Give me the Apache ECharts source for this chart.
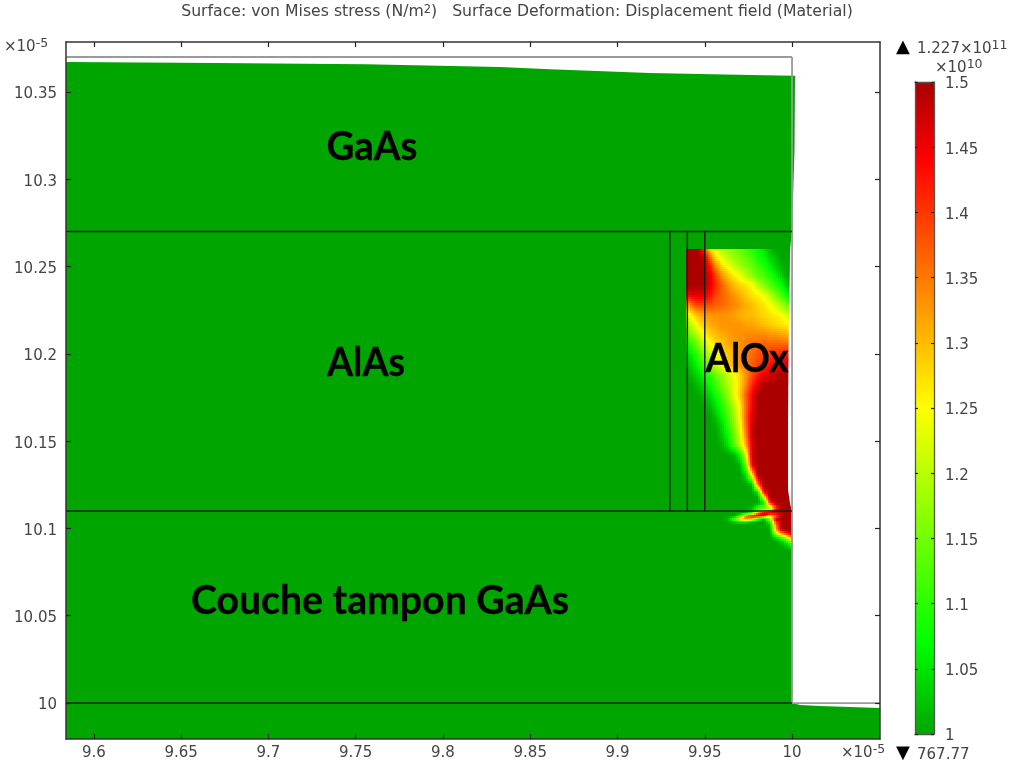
<!DOCTYPE html>
<html><head><meta charset="utf-8">
<script src="https://cdn.jsdelivr.net/npm/echarts@6/dist/echarts.min.js"></script>
<style>html,body{margin:0;padding:0;background:#fff;overflow:hidden}#c{width:1017px;height:769px;filter:blur(0.5px)}</style>
</head><body><div id="c"></div>
<script>
// ---- axis ticks (units of 1e-5) ----
const xTickValues = [9.6, 9.65, 9.7, 9.75, 9.8, 9.85, 9.9, 9.95, 10];
const yTickValues = [10, 10.05, 10.1, 10.15, 10.2, 10.25, 10.3, 10.35];
const xRange = [9.584, 10.0504];
const yRange = [9.9794, 10.3786];

// ---- colour scale (units of 1e10) ----
const colormapValues = [1, 1.07, 1.25, 1.44, 1.5];
const colormapColors = [[0,165,0],[0,255,0],[255,255,0],[255,0,0],[170,0,0]];
const colorbarRange = [1, 1.5];

// ---- deformed material outline ----
const materialX = [9.584, 9.6697, 9.7557, 9.8327, 9.8613, 9.9186, 9.976, 10.0017, 10.0014, 10, 10, 10.0046, 10.016, 10.0504, 10.0504, 9.584];
const materialY = [10.3672, 10.3666, 10.3658, 10.3643, 10.363, 10.3609, 10.3597, 10.3592, 10.3168, 10.27, 10, 9.9989, 9.9983, 9.9971, 9.9794, 9.9794];
// gap left where the oxide has shrunk away from the undeformed edge
const gapX = [10, 9.9989, 9.998, 9.9977, 9.9977, 9.9989, 10];
const gapY = [10.27, 10.26, 10.2022, 10.1621, 10.122, 10.114, 10.11];

// ---- undeformed geometry ----
const geometryDark = [
  [9.584,10.27,10,10.27],[9.584,10.11,10,10.11],[9.584,10,10,10],
  [9.93,10.11,9.93,10.27],[9.94,10.11,9.94,10.27],[9.95,10.11,9.95,10.27]
];
const geometryGrey = [
  [9.584,10.37,10,10.37],[10,10.37,10,10],[10,10,10.0504,10]
];

// ---- region names ----
const regionNames = ['GaAs','AlAs','AlOx','Couche tampon GaAs'];
const regionX = [9.7593, 9.7559, 9.9742, 9.7639];
const regionY = [10.3185, 10.1948, 10.1972, 10.0585];
const regionWidthScale = [0.96, 0.94, 0.925, 0.98];

// ---- von Mises stress (x 1e8 N/m2) ----
const fieldX = [9.9393,9.9427,9.9461,9.9496,9.953,9.9564,9.9599,9.9633,9.9668,9.9702,9.9736,9.9771,9.9805,9.984,9.9874,9.9908,9.9943,9.9977,10];
const fieldY = [10.2601,10.2555,10.2509,10.2452,10.2394,10.2337,10.228,10.2223,10.2165,10.2108,10.2051,10.1993,10.1936,10.1879,10.1822,10.1764,10.1707,10.165,10.1592,10.1535,10.1478,10.1421,10.1363,10.1306,10.1249,10.1209,10.1174,10.1146,10.1123,10.1106,10.1088,10.1071,10.1054,10.1037,10.102,10.0997,10.0974,10.0951,10.0928,10.0905,10.0876];
const fieldValues = [
[150,150,150,140,128,123,120,118,116,114,112,110,107,105,102,100,100,100,100],
[150,150,150,148,136,127,123,120,118,116,114,112,109,107,104,102,100,100,100],
[150,150,150,150,142,133,127,124,121,118,116,114,111,109,106,103,101,100,100],
[150,150,150,150,146,139,133,129,126,124,120,117,114,112,109,106,103,100,100],
[150,150,150,150,146,141,137,133,130,128,127,125,120,117,113,110,107,102,100],
[144,146,146,146,143,139,137,135,133,131,129,127,126,124,120,116,112,107,104],
[130,136,139,139,138,137,136,135,134,133,131,130,128,127,125,122,118,115,112],
[122,126,130,132,133,133,133,133,132,131,130,130,129,128,127,126,125,122,120],
[116,121,126,129,131,132,133,133,133,133,132,132,131,130,129,128,127,126,125],
[112,116,120,125,128,130,131,132,133,133,134,134,134,134,133,133,132,131,131],
[107,110,115,120,124,127,129,131,132,133,134,135,136,137,137,137,137,137,137],
[104,106,110,115,120,124,127,129,131,133,135,136,138,139,140,141,142,143,143],
[102,104,107,112,117,121,125,128,131,133,135,137,139,141,143,144,146,147,147],
[100,102,104,107,110,114,117,121,124,128,133,138,142,145,147,149,150,150,150],
[100,100,102,104,107,111,115,119,123,128,134,141,146,150,150,150,150,150,150],
[100,100,100,102,104,108,112,117,123,129,137,144,150,150,150,150,150,150,150],
[100,100,100,100,102,105,109,114,120,126,136,144,150,150,150,150,150,150,150],
[100,100,100,100,100,103,107,112,118,125,137,146,150,150,150,150,150,150,150],
[100,100,100,100,100,101,104,110,116,124,136,147,150,150,150,150,150,150,150],
[100,100,100,100,100,100,103,107,114,122,134,148,150,150,150,150,150,150,150],
[100,100,100,100,100,100,101,105,112,120,131,146,150,150,150,150,150,150,150],
[100,100,100,100,100,100,100,100,101,107,122,147,150,150,150,150,150,150,150],
[100,100,100,100,100,100,100,100,100,101,114,145,150,150,150,150,150,150,150],
[100,100,100,100,100,100,100,100,100,100,104,125,150,150,150,150,150,150,150],
[100,100,100,100,100,100,100,100,100,100,100,101,135,150,150,150,150,150,150],
[100,100,100,100,100,100,100,100,100,100,100,100,106,145,150,150,150,150,150],
[100,100,100,100,100,100,100,100,100,100,100,100,100,122,150,150,150,150,150],
[100,100,100,100,100,100,100,100,100,100,100,100,100,105,140,150,150,150,150],
[100,100,100,100,100,100,100,100,100,100,100,101,108,115,118,140,150,150,150],
[100,100,100,100,100,100,100,100,100,100,100,103,112,118,125,145,150,150,150],
[100,100,100,100,100,100,100,100,100,100,102,112,135,148,148,147,150,150,150],
[100,100,100,100,100,100,100,100,100,110,135,146,148,144,125,135,150,150,150],
[100,100,100,100,100,100,100,102,112,125,135,125,110,102,118,148,150,150,150],
[100,100,100,100,100,100,100,100,103,106,106,102,100,100,108,140,150,150,150],
[100,100,100,100,100,100,100,100,100,100,100,100,100,100,102,135,150,150,150],
[100,100,100,100,100,100,100,100,100,100,100,100,100,100,100,132,150,150,150],
[100,100,100,100,100,100,100,100,100,100,100,100,100,100,100,120,135,145,150],
[100,100,100,100,100,100,100,100,100,100,100,100,100,100,100,106,115,125,135],
[100,100,100,100,100,100,100,100,100,100,100,100,100,100,100,100,104,112,120],
[100,100,100,100,100,100,100,100,100,100,100,100,100,100,100,100,101,104,110],
[100,100,100,100,100,100,100,100,100,100,100,100,100,100,100,100,100,100,100]
];

// ---- helpers ----
function stressColor(v) {
  v = Math.min(colormapValues[colormapValues.length-1], Math.max(colormapValues[0], v));
  let i = 0;
  while (i < colormapValues.length-2 && v > colormapValues[i+1]) i++;
  const t = (v-colormapValues[i])/(colormapValues[i+1]-colormapValues[i]);
  const a = colormapColors[i], b = colormapColors[i+1];
  return 'rgb('+a.map((c,k)=>Math.round(c+(b[k]-c)*t)).join(',')+')';
}
const rgb = c => 'rgb('+c.join(',')+')';
const fieldCells = [];
for (let r = 0; r < fieldY.length-1; r++) for (let c = 0; c < fieldX.length-1; c++) {
  const q = [fieldValues[r][c], fieldValues[r][c+1], fieldValues[r+1][c], fieldValues[r+1][c+1]];
  if (Math.max.apply(null,q) > 100) fieldCells.push([fieldX[c],fieldY[r],fieldX[c+1],fieldY[r+1],q[0],q[1],q[2],q[3]]);
}
const polygonItem = (xs,ys,fill) => (p,api) => ({
  type:'polygon', shape:{points:xs.map((x,i)=>api.coord([x,ys[i]]))}, style:{fill:fill}, silent:true
});
const segmentItem = (color,width) => (p,api) => {
  const a = api.coord([api.value(0),api.value(1)]), b = api.coord([api.value(2),api.value(3)]);
  return {type:'line', shape:{x1:a[0],y1:a[1],x2:b[0],y2:b[1]}, style:{stroke:color,lineWidth:width}};
};
const cellItem = (p,api) => {
  const a = api.coord([api.value(0),api.value(1)]), b = api.coord([api.value(2),api.value(3)]);
  const v = [api.value(4),api.value(5),api.value(6),api.value(7)];
  const x0 = Math.round(a[0]), x1 = Math.round(b[0]), y0 = Math.round(a[1]), y1 = Math.round(b[1]);
  const children = [];
  for (let py = y0; py < y1; py += 2) for (let px = x0; px < x1; px += 2) {
    const w = Math.min(2,x1-px), h = Math.min(2,y1-py);
    const tx = (px+w/2-x0)/(x1-x0), ty = (py+h/2-y0)/(y1-y0);
    const s = (v[0]*(1-tx)+v[1]*tx)*(1-ty)+(v[2]*(1-tx)+v[3]*tx)*ty;
    children.push({type:'rect', shape:{x:px,y:py,width:w,height:h}, style:{fill:stressColor(s/100)}});
  }
  return {type:'group', children:children};
};

const TICK = '#222', AXIS = '#333', TXT = '#444', FONT = '"DejaVu Sans"';
const fmt = v => String(+(+v).toFixed(2));
const fmtRich = v => '{a|'+fmt(v)+'}';
const labelRich = {a:{fontFamily:FONT,fontSize:15,color:TXT,padding:[5,0,0,0]}};
const sup = {b:{fontFamily:FONT,fontSize:15,color:TXT,verticalAlign:'bottom',lineHeight:17},
             s:{fontFamily:FONT,fontSize:12.5,color:TXT,verticalAlign:'top',lineHeight:17,padding:[0,0,6,0]}};
const textEl = (x,y,text,extra) => ({type:'text', x:x, y:y, style:Object.assign({text:text, rich:sup, align:'left', verticalAlign:'middle', fill:TXT, fontFamily:FONT, fontSize:15},extra||{})});
const titleRich = {b:{fontFamily:FONT,fontSize:15.7,fontWeight:'normal',color:TXT,lineHeight:16,verticalAlign:'bottom'},
                   s:{fontFamily:FONT,fontSize:11.5,fontWeight:'normal',color:TXT,lineHeight:16,verticalAlign:'top',padding:[0,0,5,0]}};

const chart = echarts.init(document.getElementById('c'), null, {renderer:'canvas'});
const mainAxis = {type:'value', min:xRange[0], max:xRange[1], gridIndex:0, z:10, splitLine:{show:false},
  axisLine:{show:true,onZero:false,lineStyle:{color:AXIS,width:1.5}},
  axisTick:{show:true,inside:true,length:5,customValues:xTickValues,lineStyle:{color:TICK,width:1.2}}};
const mainYAxis = {type:'value', min:yRange[0], max:yRange[1], gridIndex:0, z:10, splitLine:{show:false},
  axisLine:{show:true,onZero:false,lineStyle:{color:AXIS,width:1.5}},
  axisTick:{show:true,inside:true,length:5,customValues:yTickValues,lineStyle:{color:TICK,width:1.2}}};
const barY = {type:'value', min:colorbarRange[0], max:colorbarRange[1], interval:0.05, gridIndex:1, z:10, splitLine:{show:false},
  axisLine:{show:true,onZero:false,lineStyle:{color:'#555',width:1.3}},
  axisTick:{show:true,inside:true,length:3,lineStyle:{color:TICK,width:1.2}}};
const barEdge = pos => ({type:'value',gridIndex:1,min:0,max:1,position:pos,z:10,axisLine:{show:true,onZero:false,lineStyle:{color:'#555',width:1.3}},axisTick:{show:false},axisLabel:{show:false},splitLine:{show:false}});

chart.setOption({
  animation:false,
  backgroundColor:'#fff',
  grid:[{left:66,top:42,width:814,height:697},{left:915,top:82,width:19,height:652}],
  xAxis:[
    Object.assign({},mainAxis,{position:'bottom',axisLabel:{show:true,customValues:xTickValues,formatter:fmt,margin:7,fontFamily:FONT,fontSize:15,color:TXT,hideOverlap:false}}),
    Object.assign({},mainAxis,{position:'top',axisLabel:{show:false}}),
    barEdge('bottom'),
    barEdge('top')
  ],
  yAxis:[
    Object.assign({},mainYAxis,{position:'left',axisLabel:{show:true,customValues:yTickValues,formatter:fmtRich,rich:labelRich,margin:9,hideOverlap:false}}),
    Object.assign({},mainYAxis,{position:'right',axisLabel:{show:false}}),
    Object.assign({},barY,{position:'right',axisLabel:{show:true,inside:false,margin:11,formatter:fmtRich,rich:labelRich,showMinLabel:true,showMaxLabel:true}}),
    Object.assign({},barY,{position:'left',axisLabel:{show:false}})
  ],
  title:{left:512,top:-1,textAlign:'center',
    text:'{b|Surface: von Mises stress (N/m}{s|2}{b|)   Surface Deformation: Displacement field (Material)}',
    textStyle:{rich:titleRich,fontWeight:'normal'}},
  graphic:[
    textEl(4,46,'{b|×10}{s|-5}'),
    textEl(841,752,'{b|×10}{s|-5}'),
    textEl(896,47,'▲',{fill:'#000',fontSize:18}),
    textEl(917,48,'{b|1.227×10}{s|11}'),
    textEl(935,67,'{b|×10}{s|10}'),
    textEl(896,753,'▼',{fill:'#000',fontSize:18}),
    textEl(917,754,'{b|767.77}')
  ],
  series:[
    {type:'custom',name:'material',xAxisIndex:0,yAxisIndex:0,z:2,clip:true,data:[[0]],silent:true,
      renderItem:polygonItem(materialX,materialY,stressColor(1))},
    {type:'custom',name:'von Mises stress',xAxisIndex:0,yAxisIndex:0,z:3,clip:true,data:fieldCells,silent:true,progressive:0,
      encode:{x:[0,2],y:[1,3]},renderItem:cellItem},
    {type:'custom',name:'gap',xAxisIndex:0,yAxisIndex:0,z:4,data:[[0]],silent:true,
      renderItem:polygonItem(gapX,gapY,'#fff')},
    {type:'custom',name:'geometry outline',xAxisIndex:0,yAxisIndex:0,z:5,data:geometryGrey,silent:true,
      encode:{x:[0,2],y:[1,3]},renderItem:segmentItem('#9a9a9a',1.8)},
    {type:'custom',name:'geometry',xAxisIndex:0,yAxisIndex:0,z:6,data:geometryDark,silent:true,
      encode:{x:[0,2],y:[1,3]},renderItem:segmentItem('#142414',1.5)},
    {type:'custom',name:'regions',xAxisIndex:0,yAxisIndex:0,z:7,silent:true,
      data:regionNames.map((n,i)=>[regionX[i],regionY[i]]),
      renderItem:(p,api)=>{const c=api.coord([regionX[p.dataIndex],regionY[p.dataIndex]]);
        return {type:'text',x:c[0],y:c[1],scaleX:regionWidthScale[p.dataIndex],style:{text:regionNames[p.dataIndex],fill:'#000',stroke:'#000',lineWidth:0.3,font:'bold 40px Lato',align:'center',verticalAlign:'middle'}};}},
    {type:'custom',name:'colorbar',xAxisIndex:2,yAxisIndex:2,z:3,data:[[0,colorbarRange[0],1,colorbarRange[1]]],silent:true,
      encode:{x:[0,2],y:[1,3]},
      renderItem:(p,api)=>{const a=api.coord([0,colorbarRange[1]]),b=api.coord([1,colorbarRange[0]]);
        const lo=colormapValues[0],hi=colormapValues[colormapValues.length-1];
        return {type:'rect',shape:{x:a[0],y:a[1],width:b[0]-a[0],height:b[1]-a[1]},
          style:{fill:new echarts.graphic.LinearGradient(0,1,0,0,colormapValues.map((v,i)=>({offset:(v-lo)/(hi-lo),color:rgb(colormapColors[i])})))}};}}
  ]
});
</script></body></html>
